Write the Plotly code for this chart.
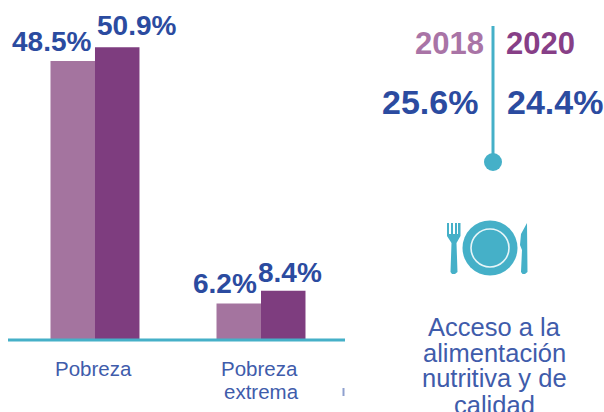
import plotly.graph_objects as go

categories = ["Pobreza", "Pobreza extrema"]
series_names = ["2018", "2020"]
values_2018 = [48.5, 6.2]
values_2020 = [50.9, 8.4]
food_label_lines = ["Acceso a la", "alimentación", "nutritiva y de", "calidad"]
food_2018 = 25.6
food_2020 = 24.4

W, H = 604, 412
L, R, T, B = 8, 345, 0, 339
LIGHT, DARK = "#a4749f", "#7e3d7f"
BLUE, THIN = "#2b4ba0", "#3f5cab"
TEAL = "#45b0c8"
SANS = "Liberation Sans, Arial, sans-serif"


def px(x):
    return (x - L) / (R - L)


def py(y):
    return (B - y) / (B - T)


def path(points):
    out = []
    for p in points:
        if isinstance(p, str):
            out.append(p)
        else:
            out.append(f"{px(p[0]):.5f},{py(p[1]):.5f}")
    return " ".join(out)


def circle(cx, cy, r, **kw):
    return dict(type="circle", xref="paper", yref="paper",
                x0=px(cx - r), x1=px(cx + r), y0=py(cy + r), y1=py(cy - r), **kw)


def label(text, x, y, size, color, family=SANS, bold=False):
    t = f"<b>{text}</b>" if bold else text
    return dict(text=t, x=px(x), y=py(y), xref="paper", yref="paper",
                xanchor="center", yanchor="middle", showarrow=False,
                font=dict(size=size, color=color, family=family))


fig = go.Figure()
fig.add_bar(name=series_names[0], x=categories, y=values_2018, marker=dict(color=LIGHT, line=dict(width=0)))
fig.add_bar(name=series_names[1], x=categories, y=values_2020, marker=dict(color=DARK, line=dict(width=0)))

ann = [
    label(f"{values_2018[0]}%", 51, 42, 28, BLUE, bold=True),
    label(f"{values_2020[0]}%", 136, 26, 28, BLUE, bold=True),
    label(f"{values_2018[1]}%", 225, 283, 28, BLUE, bold=True),
    label(f"{values_2020[1]}%", 290, 272, 28, BLUE, bold=True),
    label("Pobreza", 93, 368, 20.5, THIN),
    label("Pobreza", 259, 368, 20.5, THIN),
    label("extrema", 261, 391, 20.5, THIN),
    label(series_names[0], 449, 43, 31, "#a974a6", SANS, True),
    label(series_names[1], 540, 43, 31, "#873f87", SANS, True),
    label(f"{food_2018}%", 430, 102, 34, BLUE, bold=True),
    label(f"{food_2020}%", 555, 102, 34, BLUE, bold=True),
]
for text, y in zip(food_label_lines, [327, 353, 378, 405]):
    ann.append(label(text, 494, y, 25.5, THIN))

shapes = [
    dict(type="line", xref="paper", yref="paper", x0=0, x1=1, y0=py(340), y1=py(340),
         line=dict(color=TEAL, width=3), layer="above"),
    dict(type="line", xref="paper", yref="paper", x0=px(343.5), x1=px(343.5), y0=py(388), y1=py(396),
         line=dict(color="#8fa0cf", width=2)),
    dict(type="line", xref="paper", yref="paper", x0=px(493), x1=px(493), y0=py(26), y1=py(160),
         line=dict(color=TEAL, width=3)),
    circle(493, 162, 9, fillcolor=TEAL, line=dict(width=0)),
    circle(490, 248, 27.5, fillcolor=TEAL, line=dict(width=0)),
    circle(490, 248, 19, fillcolor="rgba(0,0,0,0)", line=dict(color="#e6f5f8", width=1.6)),
    # fork
    dict(type="path", xref="paper", yref="paper", fillcolor=TEAL, line=dict(width=0),
         path=path(["M", (447, 223), "L", (449, 223), "L", (449, 234), "L", (451, 234), "L", (451, 223),
                    "L", (453, 223), "L", (453, 234), "L", (455, 234), "L", (455, 223), "L", (457, 223),
                    "L", (457, 234), "L", (458, 234), "L", (458, 223), "L", (460.5, 223), "L", (460.5, 236),
                    "L", (456.5, 243), "L", (457.5, 272), "L", (455, 274), "L", (452, 274), "L", (450.5, 272),
                    "L", (451.5, 243), "L", (447, 236), "Z"])),
    # knife
    dict(type="path", xref="paper", yref="paper", fillcolor=TEAL, line=dict(width=0),
         path=path(["M", (527, 223), "L", (527.5, 272), "L", (525, 274), "L", (522.5, 274), "L", (521, 272),
                    "L", (522, 250), "L", (520, 245), "L", (521, 234), "Z"])),
]

fig.update_layout(
    width=W, height=H, autosize=False,
    margin=dict(l=L, r=W - R, t=T, b=H - B, pad=0),
    paper_bgcolor="white", plot_bgcolor="white",
    barmode="group", bargap=0.464, bargroupgap=0,
    showlegend=False,
    annotations=ann, shapes=shapes,
    xaxis=dict(range=[-0.524, 1.506], showticklabels=False, showgrid=False, zeroline=False, ticks="", showline=False),
    yaxis=dict(range=[0, 59.16], visible=False, showgrid=False, zeroline=False),
)
fig.write_html("out.html", config={"displayModeBar": False},
               post_script="document.body.style.margin='0';document.body.style.overflow='hidden';")
